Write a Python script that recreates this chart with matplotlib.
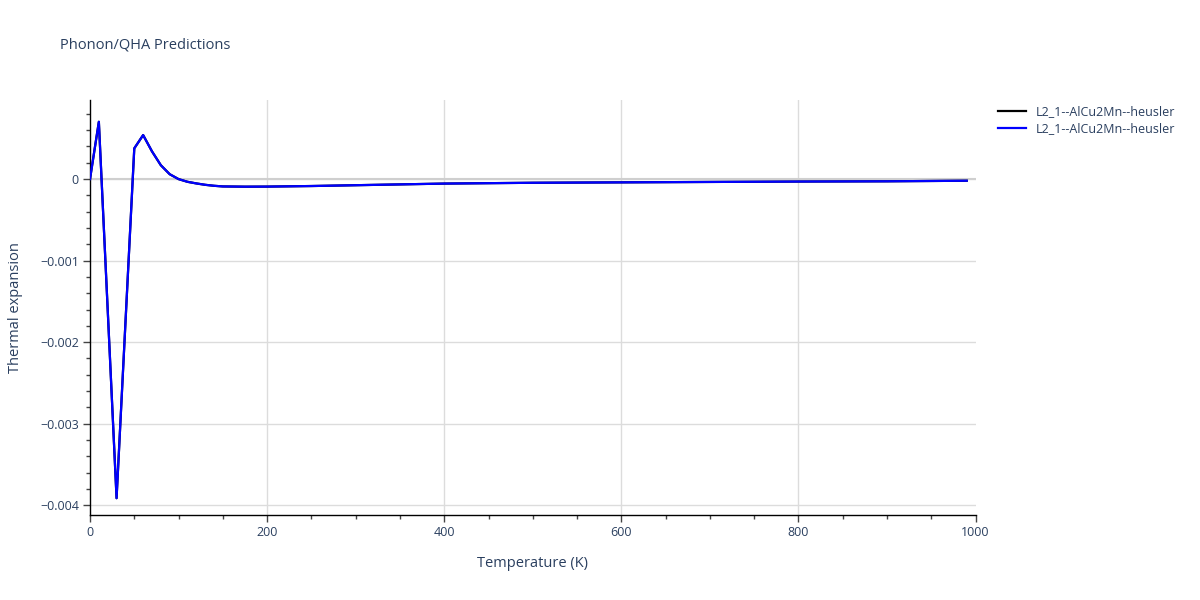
import matplotlib.pyplot as plt
from matplotlib.ticker import MultipleLocator, FuncFormatter

# data
temperature = [0, 10, 30, 50, 60, 70, 80, 90, 100, 110, 120, 130, 140, 150,
               175, 200, 250, 300, 400, 500, 600, 700, 800, 900, 990]
thermal_exp = [0.0, 0.000703, -0.003914, 0.000377, 0.00054, 0.00034, 0.00017,
               0.00006, 0.0, -0.000033, -0.000053, -0.00007, -0.000082, -0.00009,
               -0.000093, -0.000092, -0.000085, -0.000075, -0.000055, -0.000045,
               -0.00004, -0.000035, -0.00003, -0.000027, -0.00002]
series_labels = ['L2_1--AlCu2Mn--heusler', 'L2_1--AlCu2Mn--heusler']
series_colors = ['black', 'blue']

txt = '#2a3f5f'
plt.rcParams['font.family'] = ['Open Sans', 'DejaVu Sans']

fig = plt.figure(figsize=(12, 6), dpi=100)
ax = fig.add_axes([0.075, 0.1417, 0.738, 0.6916])

for lab, col in zip(series_labels, series_colors):
    ax.plot(temperature, thermal_exp, color=col, lw=1.6, label=lab, zorder=3)

ax.set_xlim(0, 1000)
ax.set_ylim(-0.00412, 0.00097)
ax.xaxis.set_major_locator(MultipleLocator(200))
ax.xaxis.set_minor_locator(MultipleLocator(50))
ax.yaxis.set_major_locator(MultipleLocator(0.001))
ax.yaxis.set_minor_locator(MultipleLocator(0.0002))


def yfmt(v, pos):
    if abs(v) < 1e-12:
        return '0'
    return ('%.3f' % v).replace('-', '\u2212')


ax.yaxis.set_major_formatter(FuncFormatter(yfmt))
ax.grid(True, which='major', color='#dcdcdc', lw=1)
ax.axhline(0, color='#cfcfcf', lw=1.5, zorder=1)
ax.set_axisbelow(True)
fig.canvas.draw()
for gl, tk in zip(ax.get_xgridlines(), ax.get_xticks()):
    if tk >= 1000 or tk <= 0:
        gl.set_visible(False)

for s in ['top', 'right']:
    ax.spines[s].set_visible(False)
for s in ['left', 'bottom']:
    ax.spines[s].set_color('black')
    ax.spines[s].set_linewidth(1)

ax.tick_params(which='major', direction='out', length=5, width=1, color='#444444',
               labelcolor=txt, labelsize=9, pad=3)
ax.tick_params(which='minor', direction='out', length=3, width=1, color='#444444')

ax.set_xlabel('Temperature (K)', color=txt, fontsize=10.5, labelpad=12)
ax.set_ylabel('Thermal expansion', color=txt, fontsize=10.5, labelpad=12)

fig.text(0.05, 0.925, 'Phonon/QHA Predictions', color=txt, fontsize=10.5, va='center')

leg = ax.legend(loc='upper left', bbox_to_anchor=(1.02, 1.0), frameon=False,
                fontsize=9, handlelength=2.2, labelspacing=0.35, borderaxespad=0)
for t in leg.get_texts():
    t.set_color(txt)

fig.savefig('out.png', dpi=100)
